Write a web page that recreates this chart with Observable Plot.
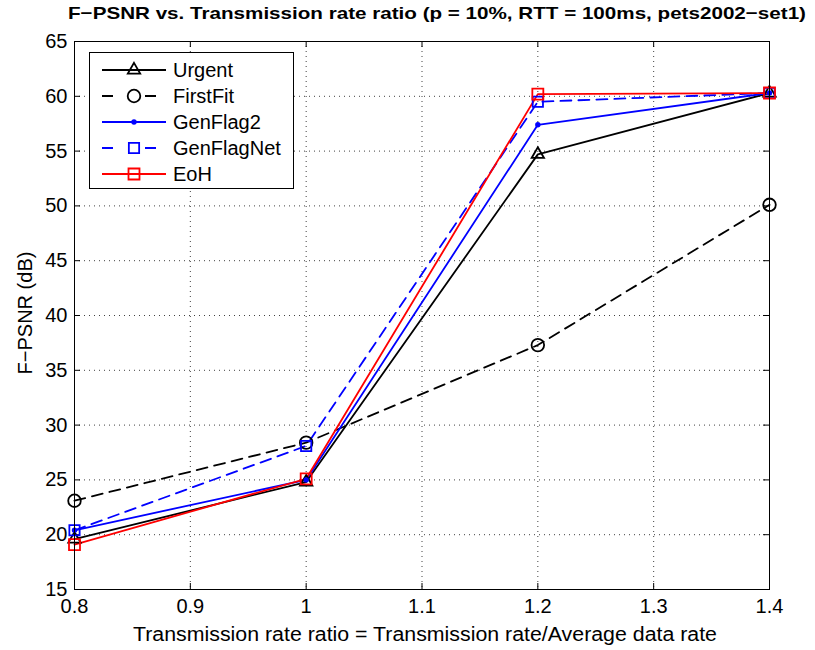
<!DOCTYPE html>
<html>
<head>
<meta charset="utf-8">
<script src="https://cdn.jsdelivr.net/npm/d3@7"></script>
<script src="https://cdn.jsdelivr.net/npm/@observablehq/plot@0.6"></script>
<style>
  html, body { margin: 0; padding: 0; background: #fff; }
  #chart svg { display: block; }
</style>
</head>
<body>
<div id="chart"></div>
<script>
// ---- data ----
const titleText = "F\u2212PSNR vs. Transmission rate ratio (p = 10%, RTT = 100ms, pets2002\u2212set1)";
const xLabelText = "Transmission rate ratio = Transmission rate/Average data rate";
const yLabelText = "F\u2212PSNR (dB)";
const xValues = [0.8, 1.0, 1.2, 1.4];
const seriesNames = ["Urgent", "FirstFit", "GenFlag2", "GenFlagNet", "EoH"];
const urgent     = [19.6, 24.8, 54.7, 60.3];
const firstFit   = [23.1, 28.4, 37.3, 50.1];
const genFlag2   = [20.4, 25.0, 57.4, 60.3];
const genFlagNet = [20.4, 28.1, 59.5, 60.3];
const eoh        = [19.1, 25.1, 60.2, 60.3];
const xTicks = [0.8, 0.9, 1.0, 1.1, 1.2, 1.3, 1.4];
const yTicks = [15, 20, 25, 30, 35, 40, 45, 50, 55, 60, 65];

// ---- styles ----
const styles = [
  {color: "#000000", dash: null,   symbol: d3.symbolTriangle, r: 4.6, fill: "none"},
  {color: "#000000", dash: "11,7", symbol: d3.symbolCircle,   r: 6.3, fill: "none"},
  {color: "#0000ff", dash: null,   symbol: d3.symbolCircle,   r: 1.8, fill: "#0000ff"},
  {color: "#0000ff", dash: "11,7", symbol: d3.symbolSquare,   r: 5.8, fill: "none"},
  {color: "#ff0000", dash: null,   symbol: d3.symbolSquare,   r: 6.2, fill: "none"}
];
const seriesValues = [urgent, firstFit, genFlag2, genFlagNet, eoh];

const W = 815, H = 650;
const mL = 74, mR = 46, mT = 41, mB = 61;
const frameW = W - mL - mR, frameH = H - mT - mB;
const tickLen = 6;
const font = "'Liberation Sans', Arial, Helvetica, sans-serif";

const marks = [
  Plot.gridX(xTicks, {stroke: "#000", strokeOpacity: 0.75, strokeDasharray: "1,4", strokeWidth: 1}),
  Plot.gridY(yTicks, {stroke: "#000", strokeOpacity: 0.75, strokeDasharray: "1,4", strokeWidth: 1}),
  // inward ticks on all four sides
  Plot.tickX(xTicks, {x: d => d, insetTop: frameH - tickLen, stroke: "#000"}),
  Plot.tickX(xTicks, {x: d => d, insetBottom: frameH - tickLen, stroke: "#000"}),
  Plot.tickY(yTicks, {y: d => d, insetRight: frameW - tickLen, stroke: "#000"}),
  Plot.tickY(yTicks, {y: d => d, insetLeft: frameW - tickLen, stroke: "#000"}),
  Plot.axisX(xTicks, {tickSize: 0, tickPadding: 9, fontSize: 20, label: null,
    tickFormat: d => String(+d.toFixed(1)), fill: "#000"}),
  Plot.axisY(yTicks, {tickSize: 0, tickPadding: 7, fontSize: 20, label: null, fill: "#000"})
];

seriesValues.forEach((vals, i) => {
  const s = styles[i];
  const data = xValues.map((x, j) => ({x, y: vals[j]}));
  marks.push(Plot.line(data, {x: "x", y: "y", stroke: s.color, strokeWidth: 1.8,
    strokeDasharray: s.dash || undefined}));
});
seriesValues.forEach((vals, i) => {
  const s = styles[i];
  const data = xValues.map((x, j) => ({x, y: vals[j]}));
  marks.push(Plot.dot(data, {x: "x", y: "y", symbol: s.symbol, r: s.r, stroke: s.color,
    fill: s.fill, strokeWidth: 1.8}));
});
marks.push(Plot.frame({stroke: "#000", strokeWidth: 1}));

const chart = Plot.plot({
  width: W, height: H,
  marginLeft: mL, marginRight: mR, marginTop: mT, marginBottom: mB,
  style: {fontFamily: font, background: "#fff", color: "#000", overflow: "visible"},
  x: {domain: [0.8, 1.4]},
  y: {domain: [15, 65]},
  marks
});
document.getElementById("chart").appendChild(chart);

// ---- title, axis labels, legend ----
const svg = d3.select(chart);
svg.append("text")
  .attr("x", 437).attr("y", 19)
  .attr("text-anchor", "middle")
  .attr("font-family", font).attr("font-weight", "bold").attr("font-size", 17)
  .attr("textLength", 738).attr("lengthAdjust", "spacingAndGlyphs")
  .attr("fill", "#000")
  .text(titleText);
svg.append("text")
  .attr("x", 425).attr("y", 641)
  .attr("text-anchor", "middle")
  .attr("font-family", font).attr("font-size", 20)
  .attr("textLength", 584).attr("lengthAdjust", "spacingAndGlyphs")
  .attr("fill", "#000")
  .text(xLabelText);
svg.append("text")
  .attr("transform", "translate(32,313) rotate(-90)")
  .attr("text-anchor", "middle")
  .attr("font-family", font).attr("font-size", 20)
  .attr("fill", "#000")
  .text(yLabelText);

const leg = svg.append("g");
leg.append("rect").attr("x", 89.5).attr("y", 52.5).attr("width", 204).attr("height", 136)
  .attr("fill", "#fff").attr("stroke", "#000").attr("stroke-width", 1);
const legY = [70, 96, 122, 148, 174];
seriesNames.forEach((name, i) => {
  const s = styles[i];
  const y = legY[i];
  leg.append("line").attr("x1", 102).attr("x2", 166).attr("y1", y).attr("y2", y)
    .attr("stroke", s.color).attr("stroke-width", 1.8)
    .attr("stroke-dasharray", s.dash ? "11,10,0,22,11" : null);
  leg.append("path")
    .attr("d", d3.symbol(s.symbol, Math.PI * s.r * s.r)())
    .attr("transform", `translate(134,${y})`)
    .attr("fill", s.fill).attr("stroke", s.color).attr("stroke-width", 1.8);
  leg.append("text").attr("x", 173).attr("y", y).attr("dy", "0.36em")
    .attr("text-anchor", "start")
    .attr("font-family", font).attr("font-size", 20).attr("fill", "#000")
    .text(name);
});
</script>
</body>
</html>
